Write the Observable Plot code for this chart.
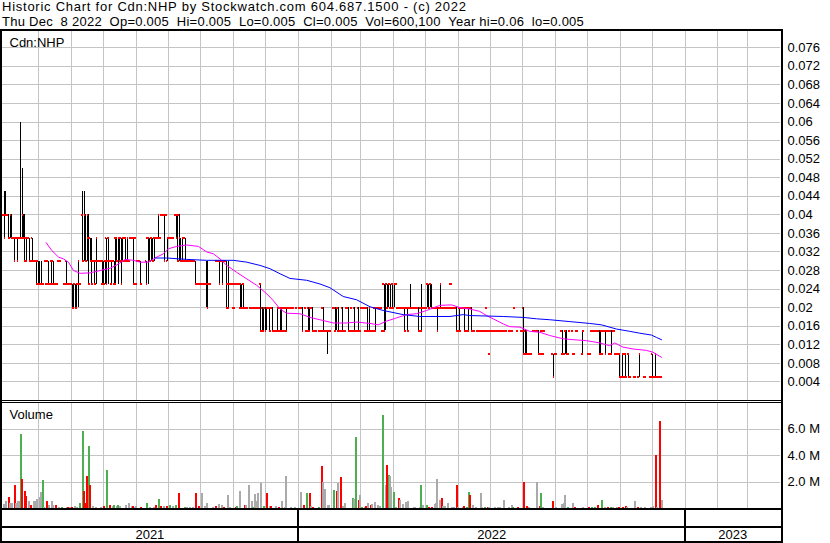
<!DOCTYPE html>
<html><head><meta charset="utf-8">
<script src="https://cdn.jsdelivr.net/npm/d3@7"></script>
<script src="https://cdn.jsdelivr.net/npm/@observablehq/plot@0.6"></script>
<style>
html,body{margin:0;padding:0;background:#fff;}
body{width:830px;height:543px;overflow:hidden;position:relative;font-family:"Liberation Sans",Arial,sans-serif;}
.hdr{position:absolute;left:2px;font-size:13px;line-height:14px;white-space:pre;color:#000;}
.pl{position:absolute;left:0;}
.ln{position:absolute;background:#000;}
</style></head><body>
<div class="hdr" style="top:0px;letter-spacing:0.75px">Historic Chart for Cdn:NHP by Stockwatch.com 604.687.1500 - (c) 2022</div>
<div class="hdr" style="top:15px;letter-spacing:0.25px">Thu Dec  8 2022  Op=0.005  Hi=0.005  Lo=0.005  Cl=0.005  Vol=600,100  Year hi=0.06  lo=0.005</div>
<div id="p1" class="pl" style="top:29px"></div>
<div id="p2" class="pl" style="top:402px"></div>
<div id="p3" class="pl" style="top:508px"></div>
<div class="ln" style="left:0;top:29px;width:783px;height:2px"></div>
<div class="ln" style="left:0;top:400px;width:783px;height:1px"></div>
<div class="ln" style="left:0;top:402px;width:783px;height:1px"></div>
<div class="ln" style="left:0;top:508px;width:783px;height:2px"></div>
<div class="ln" style="left:0;top:526px;width:783px;height:2px"></div>
<div class="ln" style="left:0;top:541px;width:783px;height:2px"></div>
<div class="ln" style="left:0;top:29px;width:2px;height:514px"></div>
<div class="ln" style="left:781px;top:29px;width:2px;height:514px"></div>
<script>
// ---------- DATA ----------
// Daily bars, one token per trading day starting Mon 2021-03-29 (price in units of $0.005):
// "v" = open=high=low=close, "o,c" = open,close, "o,c,h" / "o,c,h,l" add wick; "-" = no trade
const barsQ2_2021 = ["8,7,9","8,8,9","8","8,7","7,8","8,7","7","7,6","7","7,6","7","7,7,12","7,7,10","8,7","7,6,8","7,6","7","7,6","6","7,6",
 "6","6","6,5","6,5","5,5,6","5,5,6","5","-","6","5","6,5","5","6,5","6,5","5","5","5","6","6","-",
 "-","5","6,5","5","5","5","5,4","4,5","5,4","4,5","5,6,6,4","5","-","8,6,9","6,8,9","8,6","6,8","7,5,8","7,6","6,5,7",
 "6","6,5","6,7,7,5","6","6","6","6,5","6,5"];
const barsQ3_2021 = ["5,6","7,5","6,7,7,5","6","6,5","6","6,5","7,5","7,6","6,7,7,5","7,6","7,5",
 "6,7","6","7,6","6,7","6","7","7","7,5","7","5","6","6","6,5","-","-","-","6,5","7,7,7,5","7,6","6,7",
 "7,6","6,7","7","7","7,8","7","8","8","8,6","8","6,7","7","7","7","7","-","8,7","8,6","8,7,8,6","7,6",
 "6,7","6","7,6","6","6","6","6","6","6","6,5","5","5","5","5","5","5"];
const barsQ4_2021 = ["5,5,6,4","5,4,6","5","5",
 "-","-","-","6","6","6,5","6","6,5","6","6","6,4","5,4,6","5","5","5","4","5","5","5","5,4",
 "5,4","4,5","4","4","4","-","4","4","-","4","4","4","4","5,3","4,3","3,4","4,3","3,4","4","4,3",
 "4","4,3","3","3","3,4","3","4,3","4,3","4","3","4,3","4","4","-","4","4","-","4","-","4"];
const barsH1_2022 = ["4","4,3","-","4","3","4,3","3,4","4","4,3","3","3","-","-","3","3","4,3","3","3","3,3,3,2","3",
 "3","-","4","4,3","3,4","4,3","3","3","4,3","3","3","4","4,3","3","4","3","4,3","3","3","4,3",
 "3","4","-","4","3","4,3","3,4","3","3","3","4,3","4","4","4","4","3","5,3","3,5","5,4","4,5",
 "5,4","4","5,4","4,5","5","4","4","4","4","4","4,3","4","4,3","4","4,4,5","4","4","-","4","4,3",
 "3","4,3,5","4","4","-","4,5","5,4","4,5","5,4","4","4","4","4,3","4","4,5","4","4","4","4","4",
 "4","5","4","4","4","4,3","3","4,3","4","-","4,3","4","3","4,3","4","4,3","3","3","-","3"];
const barsH2_2022 = ["3","3","3","-","3","4","3","2","3","3","3","3","3","3","3","-","3","3","3","-",
 "-","3","3","-","4","-","3","-","-","3","4,2","3,2","2,3","2","2","2","-","3","3","3",
 "3,2","2","3","2","3","-","-","-","-","-","2,1","-","2","-","-","-","3,2","2","2,3","3,2",
 "2","3","-","3","2","-","3","-","-","-","2,3","-","-","-","2","2","3","3","3","3",
 "-","3,2","2,3","2","3","3,2","3","3","2","3,2","-","3","2","2","2","2,1","-","1,2","1","2,1",
 "-","2,1","1","-","-","1","-","-","1,2","-","-","-","1","-","-","-","1","2,1","1","1,2",
 "1","1","1","1"];
const priceUnit = 0.005;

// Volume in millions: [trading day, volume, direction g=up r=down s=unchanged]
const volume2021 = [[0,0.3,"s"],[1,0.5,"s"],[3,0.8,"r"],[4,0.4,"s"],[5,0.4,"s"],[7,1.7,"r"],[8,0.4,"s"],[9,0.5,"s"],[10,0.5,"s"],[11,5.6,"g"],[12,2.2,"r"],[14,1.3,"r"],[15,0.9,"r"],[17,0.5,"s"],[18,0.2,"r"],[20,0.5,"s"],[21,0.5,"s"],[22,0.7,"s"],[24,0.8,"s"],[25,1.2,"s"],[26,2.1,"g"],[27,0.1,"s"],[29,0.55,"r"],[30,0.2,"s"],[32,0.55,"s"],[33,0.25,"s"],[35,0.2,"r"],[37,0.05,"s"],[39,0.05,"g"],[42,0.05,"s"],[43,0.05,"r"],[44,0.08,"s"],[46,0.1,"r"],[48,0.12,"s"],[49,0.1,"s"],[51,0.35,"g"],[53,5.8,"g"],[54,1.25,"r"],[55,0.4,"r"],[56,2.4,"r"],[57,4.65,"g"],[58,1.7,"r"],[60,0.15,"s"],[62,0.1,"s"],[65,0.1,"s"],[67,0.12,"r"],[69,2.9,"g"],[71,0.25,"r"],[73,0.12,"s"],[74,0.25,"g"],[76,0.18,"s"],[77,0.25,"g"],[78,0.15,"s"],[82,0.25,"s"],[84,0.4,"s"],[86,0.12,"s"],[87,0.18,"r"],[88,0.1,"s"],[89,0.12,"s"],[92,0.05,"r"],[96,0.4,"g"],[98,0.05,"s"],[101,0.05,"s"],[102,0.25,"r"],[104,0.7,"g"],[106,0.12,"r"],[108,0.12,"s"],[110,0.18,"r"],[112,0.25,"g"],[114,0.12,"s"],[116,0.25,"g"],[118,1.1,"r"],[122,0.1,"g"],[123,0.05,"s"],[125,0.05,"s"],[127,0.05,"s"],[129,1.15,"r"],[131,0.18,"r"],[133,1.15,"s"],[135,0.12,"s"],[137,0.38,"s"],[141,0.1,"s"],[143,0.12,"r"],[145,0.3,"s"],[147,0.2,"s"],[148,0.08,"r"],[151,1.0,"s"],[152,0.05,"s"],[156,0.05,"r"],[157,0.18,"g"],[159,1.25,"s"],[162,0.25,"r"],[163,0.25,"s"],[165,1.75,"s"],[167,0.55,"s"],[168,0.1,"g"],[169,1.05,"s"],[170,0.55,"s"],[171,1.1,"s"],[173,1.9,"s"],[175,0.18,"g"],[177,1.1,"r"],[179,0.18,"s"],[180,0.18,"r"],[183,0.12,"s"],[185,0.05,"r"],[187,0.55,"s"],[189,0.05,"s"],[190,2.45,"s"],[193,0.05,"s"],[196,0.05,"s"]];
const volume2022 = [[200,1.2,"s"],[202,0.25,"r"],[204,1.15,"g"],[206,1.1,"r"],[207,0.18,"s"],[208,0.05,"r"],[212,0.05,"g"],[214,3.2,"r"],[215,1.95,"s"],[216,1.4,"s"],[218,0.25,"s"],[219,0.25,"s"],[222,1.35,"g"],[224,1.25,"r"],[225,1.9,"s"],[227,2.35,"r"],[228,0.12,"s"],[230,0.4,"s"],[235,0.75,"g"],[236,0.68,"s"],[237,5.35,"g"],[239,0.6,"r"],[240,1.0,"s"],[241,0.08,"g"],[243,0.1,"s"],[244,0.18,"r"],[245,0.38,"s"],[247,0.25,"r"],[248,0.33,"s"],[250,0.45,"s"],[252,0.2,"s"],[253,0.12,"s"],[255,7.05,"g"],[257,1.75,"s"],[258,3.25,"r"],[259,2.5,"g"],[260,2.4,"s"],[261,1.6,"s"],[263,1.2,"g"],[264,0.05,"s"],[266,0.75,"r"],[267,0.58,"s"],[269,0.3,"s"],[271,0.45,"s"],[272,0.5,"s"],[276,0.05,"s"],[277,0.05,"s"],[280,0.05,"s"],[281,1.7,"g"],[282,0.2,"s"],[285,0.25,"g"],[286,0.1,"r"],[288,0.1,"r"],[290,0.3,"s"],[291,0.38,"s"],[292,2.2,"s"],[294,0.6,"s"],[295,0.75,"r"],[296,0.18,"s"],[297,0.12,"s"],[299,0.35,"s"],[302,0.08,"s"],[303,0.08,"s"],[305,1.75,"r"],[306,0.1,"s"],[309,0.08,"s"],[310,0.18,"r"],[312,0.08,"g"],[313,1.2,"g"],[314,1.0,"r"],[316,0.25,"s"],[318,0.05,"s"],[321,1.1,"s"],[322,0.1,"s"],[324,0.05,"g"],[326,0.05,"r"],[327,0.05,"s"],[331,0.05,"s"],[333,0.1,"s"],[334,0.08,"s"],[337,0.6,"s"],[340,0.05,"s"],[342,0.25,"s"],[343,0.05,"g"],[346,0.05,"r"],[350,1.95,"r"],[352,0.12,"r"],[354,0.05,"s"],[359,1.95,"s"],[361,0.18,"r"],[362,1.1,"g"],[363,0.05,"s"],[370,0.55,"r"],[372,0.05,"s"],[376,0.3,"s"],[377,0.35,"s"],[378,1.0,"s"],[380,0.05,"g"],[383,0.35,"s"],[385,0.05,"r"],[390,0.05,"s"],[394,0.05,"r"],[396,0.05,"g"],[398,0.05,"g"],[400,0.25,"r"],[403,0.6,"g"],[405,0.05,"s"],[407,0.08,"r"],[409,0.1,"g"],[410,0.05,"s"],[413,0.1,"s"],[414,0.1,"r"],[417,0.1,"r"],[419,0.18,"r"],[420,0.05,"s"],[425,0.55,"s"],[427,0.05,"r"],[429,0.05,"s"],[432,0.05,"s"],[436,0.05,"s"],[437,0.18,"s"],[439,4.0,"r"],[440,0.05,"s"],[442,6.55,"r"],[443,0.6,"s"]];

// Moving averages (trading-day position, price)
const maShortDay = [28.3,32.1,36.6,40,43.3,46.7,51.2,57.9,64.7,71.4,75.9,81.5,87.1,91.6,97.2,102.8,107.3,110.7,116.3,123,130.9,136.5,141,145.5,150,156.7,163.5,170.2,176.9,181.4,185.9,190.4,199.3,206.1,212.8,221.8,230.8,237.5,246.5,252.1,257.7,264.5,271.2,277.9,284.7,293.6,301.5,307.1,313.8,320.5,325,329.5,336.3,340.8,347.5,354.2,361,367.7,376.6,383.4,392.4,401.4,408.1,411.5,417,423.8,432.8,437.2,443];
const maShortVal = [0.0340,0.0323,0.0309,0.0305,0.0298,0.0280,0.0274,0.0275,0.0280,0.0285,0.0292,0.0304,0.0302,0.0298,0.0298,0.0309,0.0316,0.0327,0.0332,0.0335,0.0332,0.0320,0.0316,0.0305,0.0291,0.0276,0.0262,0.0248,0.0230,0.0215,0.0197,0.0188,0.0187,0.0179,0.0174,0.0167,0.0167,0.0169,0.0166,0.0163,0.0171,0.0178,0.0185,0.0187,0.0194,0.0205,0.0206,0.0200,0.0197,0.0192,0.0183,0.0176,0.0165,0.0159,0.0158,0.0149,0.0147,0.0140,0.0133,0.0131,0.0129,0.0124,0.0118,0.0124,0.0115,0.0111,0.0108,0.0104,0.0093];
const maLongDay = [101.7,109.6,123,136.5,154.4,163.5,172.4,179.1,185.9,192.6,203.9,212.8,219.5,228.5,237.5,246.5,255.4,268.9,280.1,300.4,309.3,313.8,336.3,349.7,358.7,367.7,381.2,394.6,402.5,412.6,421.6,428.3,436.2,439.5,443];
const maLongVal = [0.0307,0.0307,0.0304,0.0302,0.0302,0.0298,0.0291,0.0284,0.0273,0.0263,0.0259,0.0251,0.0243,0.0224,0.0217,0.0202,0.0194,0.0185,0.0181,0.0181,0.0185,0.0183,0.0181,0.0179,0.0176,0.0174,0.0170,0.0166,0.0163,0.0154,0.0149,0.0145,0.0141,0.0136,0.0131];

// Axis ticks and labels
const priceTicks = [0.004,0.008,0.012,0.016,0.02,0.024,0.028,0.032,0.036,0.04,0.044,0.048,0.052,0.056,0.06,0.064,0.068,0.072,0.076];
const volumeTicks = [2,4,6];
const yearLabels = ["2021","2022","2023"];
const seriesLabel = "Cdn:NHP";
const volumeLabel = "Volume";
const firstDay = "2021-03-29";
const axisStart = "2021-03-27", axisEnd = "2023-04-01";

// ---------- BUILD ----------
const DAY = 864e5;
const t0 = Date.parse(firstDay);
const toU = t => (t - t0) / DAY * 5 / 7 - 0.4;   // calendar time -> trading-day position
const xDomain = [toU(Date.parse(axisStart)), toU(Date.parse(axisEnd))];

const tokens = [...barsQ2_2021, ...barsQ3_2021, ...barsQ4_2021, ...barsH1_2022, ...barsH2_2022];
const bars = [];
tokens.forEach((tk, j) => {
  if (tk === "-") return;
  const n = tk.split(",").map(Number);
  const o = n[0], c = n.length > 1 ? n[1] : n[0];
  const h = n.length > 2 ? n[2] : Math.max(o, c);
  const l = n.length > 3 ? n[3] : Math.min(o, c);
  bars.push({j, o: o * priceUnit, c: c * priceUnit, h: Math.max(h, o, c) * priceUnit, l: Math.min(l, o, c) * priceUnit});
});
const volume = [...volume2021, ...volume2022].map(([j, v, d]) => ({j, v, d}));
const volColor = {g: "#4cb050", r: "#ff0000", s: "#aaaaaa"};
const maShort = maShortDay.map((j, i) => ({j, v: maShortVal[i]}));
const maLong = maLongDay.map((j, i) => ({j, v: maLongVal[i]}));

const months = d3.utcMonth.range(new Date(Date.UTC(2021, 4, 1)), new Date(Date.UTC(2023, 3, 1))).map(d => toU(+d));
const yearStarts = [Date.UTC(2022,0,1), Date.UTC(2023,0,1)].map(toU);
const yearBounds = [xDomain[0], ...yearStarts, xDomain[1]];
const years = yearLabels.map((t, i) => ({t, u: (yearBounds[i] + yearBounds[i + 1]) / 2}));

const grid = "#c4c4c4";
const crisp = "crispEdges";
const font = {fontFamily: "'Liberation Sans', Arial, sans-serif", fontSize: "13px", color: "#000", background: "transparent", overflow: "visible"};
const common = {width: 830, marginLeft: 1, marginRight: 50, style: font,
  x: {type: "linear", domain: xDomain, axis: null}};

const p1 = Plot.plot({...common, height: 371, marginTop: 2, marginBottom: 0,
  y: {domain: [0, 0.0795], axis: null},
  marks: [
    Plot.ruleX(months, {stroke: grid, shapeRendering: crisp}),
    Plot.ruleY(priceTicks, {stroke: grid, shapeRendering: crisp}),
    Plot.ruleX(bars.filter(d => d.h > d.l), {x: "j", y1: "l", y2: "h", stroke: "#000", shapeRendering: crisp}),
    Plot.ruleY(bars, {y: "o", x1: d => d.j - 0.9, x2: d => d.j + 0.1, stroke: "#ff0000", strokeWidth: 2, shapeRendering: crisp}),
    Plot.ruleY(bars, {y: "c", x1: d => d.j - 0.1, x2: d => d.j + 0.9, stroke: "#ff0000", strokeWidth: 2, shapeRendering: crisp}),
    Plot.line(maShort, {x: "j", y: "v", stroke: "#ff00ff", strokeWidth: 1}),
    Plot.line(maLong, {x: "j", y: "v", stroke: "#0000ff", strokeWidth: 1}),
    Plot.text(priceTicks, {x: xDomain[1], y: d => d, text: d => String(d), textAnchor: "start", dx: 7}),
    Plot.text([seriesLabel], {frameAnchor: "top-left", dx: 8, dy: 6, lineAnchor: "top", textAnchor: "start"})
  ]
});
document.getElementById("p1").appendChild(p1);

const p2 = Plot.plot({...common, height: 106, marginTop: 1, marginBottom: 0,
  y: {domain: [0, 7.925], axis: null},
  marks: [
    Plot.ruleX(months, {stroke: grid, shapeRendering: crisp}),
    Plot.ruleY(volumeTicks, {stroke: grid, shapeRendering: crisp}),
    Plot.ruleX(volume, {x: "j", y1: 0, y2: "v", stroke: d => volColor[d.d], strokeWidth: 2, shapeRendering: crisp}),
    Plot.text(volumeTicks, {x: xDomain[1], y: d => d, text: d => d.toFixed(1) + " M", textAnchor: "start", dx: 7}),
    Plot.text([volumeLabel], {frameAnchor: "top-left", dx: 8, dy: 6, lineAnchor: "top", textAnchor: "start"})
  ]
});
document.getElementById("p2").appendChild(p2);

const p3 = Plot.plot({...common, height: 35, marginTop: 0, marginBottom: 0,
  y: {domain: [0, 1], axis: null},
  marks: [
    Plot.ruleX(yearStarts, {stroke: "#000", strokeWidth: 2, shapeRendering: crisp}),
    Plot.text(years, {x: "u", text: "t", frameAnchor: "top", dy: 26.8, lineAnchor: "middle"})
  ]
});
document.getElementById("p3").appendChild(p3);
</script>
</body></html>
